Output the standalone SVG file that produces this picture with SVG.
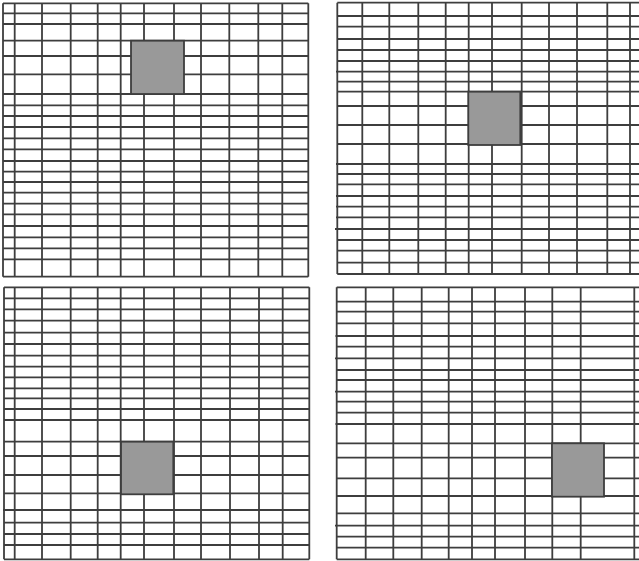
<svg xmlns="http://www.w3.org/2000/svg" width="639" height="561" viewBox="0 0 639 561">
<style>
.g{fill:none;stroke:#3e3e3e;stroke-width:1.8}
.sq{fill:#999999;stroke:#3e3e3e;stroke-width:1.8}
</style>
<rect width="639" height="561" fill="#ffffff"/>
<g id="panel1">
<path class="g" d="M3,3.3V276.7M14.7,3.3V276.7M42,3.3V276.7M70.7,3.3V276.7M97.7,3.3V276.7M120.7,3.3V276.7M144,3.3V276.7M174,3.3V276.7M201,3.3V276.7M229.3,3.3V276.7M258.3,3.3V276.7M282.3,3.3V276.7M308.3,3.3V276.7"/>
<path class="g" d="M3,3.3H308.3M3,13.3H308.3M3,24H308.3M3,40.7H308.3M3,56H308.3M3,74.3H308.3M3,94H308.3M3,105.3H308.3M3,116H308.3M3,127H308.3M3,138.3H308.3M3,149.3H308.3M3,161H308.3M3,171.7H308.3M3,182H308.3M3,192.7H308.3M3,203.7H308.3M3,214.3H308.3M3,226H308.3M3,237.3H308.3M3,248.3H308.3M3,259.3H308.3M3,276.7H308.3"/>
<rect class="sq" x="131" y="40.7" width="53" height="53.3"/>
</g>
<g id="panel2">
<path class="g" d="M337.3,2.7V274M362.3,2.7V274M389.3,2.7V274M418.3,2.7V274M445.7,2.7V274M468.7,2.7V274M492,2.7V274M521.7,2.7V274M549,2.7V274M577,2.7V274M607.3,2.7V274M630,2.7V274"/>
<path class="g" d="M337.3,2.7H639M337.3,16H639M337.3,26.7H639M337.3,39H639M337.3,50H639M337.3,61H639M336,71.7H639M337.3,81.7H639M337.3,91.7H639M337.3,106H639M337.3,125H639M337.3,144H639M336,164H639M337.3,174H639M337.3,184.3H639M336,196H639M336,206.7H639M336,217.3H639M335,229H639M337.3,240H639M337.3,250.7H639M337.3,262.7H639M337.3,274H639"/>
<rect class="sq" x="468.3" y="91.7" width="52" height="53.3"/>
</g>
<g id="panel3">
<path class="g" d="M4,287.3V559.3M14.7,287.3V559.3M42,287.3V559.3M70.7,287.3V559.3M97.7,287.3V559.3M120.7,287.3V559.3M144,287.3V559.3M174,287.3V559.3M201,287.3V559.3M230,287.3V559.3M259,287.3V559.3M282.7,287.3V559.3M309.3,287.3V559.3"/>
<path class="g" d="M4,287.3H309.3M4,298.3H309.3M4,309.3H309.3M4,320.7H309.3M4,332.7H309.3M4,344H309.3M3,355.7H309.3M4,366.7H309.3M4,377.3H309.3M3,388.3H309.3M4,398.3H309.3M4,409H309.3M4,420H309.3M4,441.7H309.3M4,456H309.3M4,475H309.3M4,493.3H309.3M3,510H309.3M4,522.7H309.3M4,534H309.3M4,545H309.3M4,559.3H309.3"/>
<rect class="sq" x="121" y="441.7" width="52.3" height="52.6"/>
</g>
<g id="panel4">
<path class="g" d="M336.7,287.3V559.3M365.7,287.3V559.3M393.3,287.3V559.3M421.7,287.3V559.3M448.7,287.3V559.3M472,287.3V559.3M495,287.3V559.3M525,287.3V559.3M552.3,287.3V559.3M580.7,287.3V559.3M634.3,287.3V559.3"/>
<path class="g" d="M336.7,287.3H639M336.7,301.7H639M336.7,311.7H639M336.7,323.3H639M335.5,336H639M336.7,346.7H639M335,358.3H639M336.7,370H639M336.7,380H639M335,391.7H639M336.7,401.7H639M336.7,412.7H639M335.5,424H639M336.7,443.3H639M336.7,457.7H639M336.7,478.3H639M336.7,496H639M336.7,513.3H639M335,525.7H639M336.7,536.7H639M336.7,547.7H639M336.7,559.3H639"/>
<rect class="sq" x="552" y="443.3" width="52" height="53.4"/>
</g>
</svg>
